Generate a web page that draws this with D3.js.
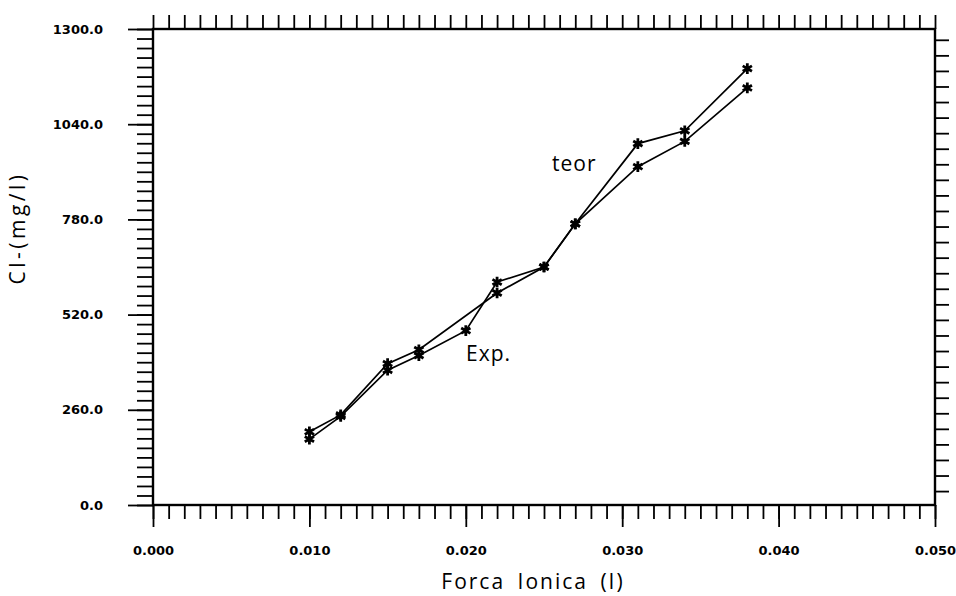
<!DOCTYPE html>
<html>
<head>
<meta charset="utf-8">
<title>Cl- vs Forca Ionica</title>
<script src="https://cdn.jsdelivr.net/npm/d3@7"></script>
<style>
  body { margin: 0; background: #fff; }
  svg { display: block; }
</style>
</head>
<body>
<svg id="chart" width="956" height="596"></svg>
<script>
// data
const teorX = [0.010, 0.012, 0.015, 0.017, 0.022, 0.025, 0.027, 0.031, 0.034, 0.038];
const teorY = [200, 246, 386, 424, 579, 650, 768, 987, 1022, 1192];
const expX = [0.010, 0.012, 0.015, 0.017, 0.020, 0.022, 0.025, 0.027, 0.031, 0.034, 0.038];
const expY = [180, 242, 368, 408, 476, 609, 650, 768, 924, 993, 1139];
const xMajor = [0, 0.01, 0.02, 0.03, 0.04, 0.05];
const yMajor = [0, 260, 520, 780, 1040, 1300];

const svg = d3.select("#chart");
const mLeft = 153, mRight = 935, mTop = 29, mBottom = 505;

const x = d3.scaleLinear().domain([0, 0.05]).range([mLeft, mRight]);
const y = d3.scaleLinear().domain([0, 1300]).range([mBottom, mTop]);

const xMinor = d3.range(0, 51).map(i => i / 1000);
const yMinor = d3.range(0, 51).map(i => i * 26);
// right side ticks are spaced differently in the original
const rightTicks = d3.range(0, 30).map(i => 38 + 42.5 * i);

const tickFont = "'DejaVu Sans', sans-serif";

function clean(g) {
  g.select(".domain").remove();
  g.selectAll("line").attr("stroke", "#000").attr("stroke-width", 1.8);
}

// bottom axis
svg.append("g")
  .attr("transform", "translate(0," + mBottom + ")")
  .call(d3.axisBottom(x).tickValues(xMinor).tickSize(14).tickFormat(""))
  .call(clean);
svg.append("g")
  .attr("transform", "translate(0," + mBottom + ")")
  .call(d3.axisBottom(x).tickValues(xMajor).tickSize(22).tickPadding(19).tickFormat(d3.format(".3f")))
  .call(clean)
  .selectAll("text")
  .attr("font-family", tickFont)
  .attr("font-weight", "bold")
  .attr("font-size", 13)
  .attr("fill", "#000");

// top axis
svg.append("g")
  .attr("transform", "translate(0," + mTop + ")")
  .call(d3.axisTop(x).tickValues(xMinor).tickSize(14).tickFormat(""))
  .call(clean);

// left axis
svg.append("g")
  .attr("transform", "translate(" + mLeft + ",0)")
  .call(d3.axisLeft(y).tickValues(yMinor).tickSize(16).tickFormat(""))
  .call(clean);
svg.append("g")
  .attr("transform", "translate(" + mLeft + ",0)")
  .call(d3.axisLeft(y).tickValues(yMajor).tickSize(25).tickPadding(25).tickFormat(d3.format(".1f")))
  .call(clean)
  .selectAll("text")
  .attr("font-family", tickFont)
  .attr("font-weight", "bold")
  .attr("font-size", 13)
  .attr("fill", "#000");

// right axis
svg.append("g")
  .attr("transform", "translate(" + mRight + ",0)")
  .call(d3.axisRight(y).tickValues(rightTicks).tickSize(14).tickFormat(""))
  .call(clean);

// frame
svg.append("rect")
  .attr("x", mLeft).attr("y", mTop)
  .attr("width", mRight - mLeft).attr("height", mBottom - mTop)
  .attr("fill", "none").attr("stroke", "#000").attr("stroke-width", 2.4);

// series
const line = d3.line().x(d => x(d[0])).y(d => y(d[1]));
const star = d3.symbol().type(d3.symbolAsterisk).size(80);

function series(xs, ys) {
  const pts = xs.map((v, i) => [v, ys[i]]);
  svg.append("path")
    .datum(pts)
    .attr("d", line)
    .attr("fill", "none")
    .attr("stroke", "#000")
    .attr("stroke-width", 1.7);
  svg.append("g").selectAll("path")
    .data(pts)
    .enter()
    .append("path")
    .attr("transform", d => "translate(" + x(d[0]) + "," + y(d[1]) + ")")
    .attr("d", star)
    .attr("fill", "none")
    .attr("stroke", "#000")
    .attr("stroke-width", 2.8);
}
series(teorX, teorY);
series(expX, expY);

// labels
const labelFont = "'Open Sans', sans-serif";
svg.append("text")
  .attr("x", 552).attr("y", 171)
  .attr("font-family", labelFont).attr("font-size", 21)
  .attr("font-weight", 500)
  .attr("letter-spacing", 1)
  .text("teor");
svg.append("text")
  .attr("x", 466).attr("y", 361)
  .attr("font-family", labelFont).attr("font-size", 21)
  .attr("letter-spacing", 1)
  .text("Exp.");

// axis titles
svg.append("text")
  .attr("x", 533).attr("y", 589)
  .attr("text-anchor", "middle")
  .attr("font-family", labelFont).attr("font-size", 21)
  .attr("letter-spacing", 2)
  .attr("word-spacing", 5)
  .text("Forca Ionica (I)");
svg.append("text")
  .attr("transform", "translate(25,228) rotate(-90)")
  .attr("text-anchor", "middle")
  .attr("font-family", labelFont).attr("font-size", 21)
  .attr("letter-spacing", 3.5)
  .text("Cl-(mg/l)");
</script>
</body>
</html>
